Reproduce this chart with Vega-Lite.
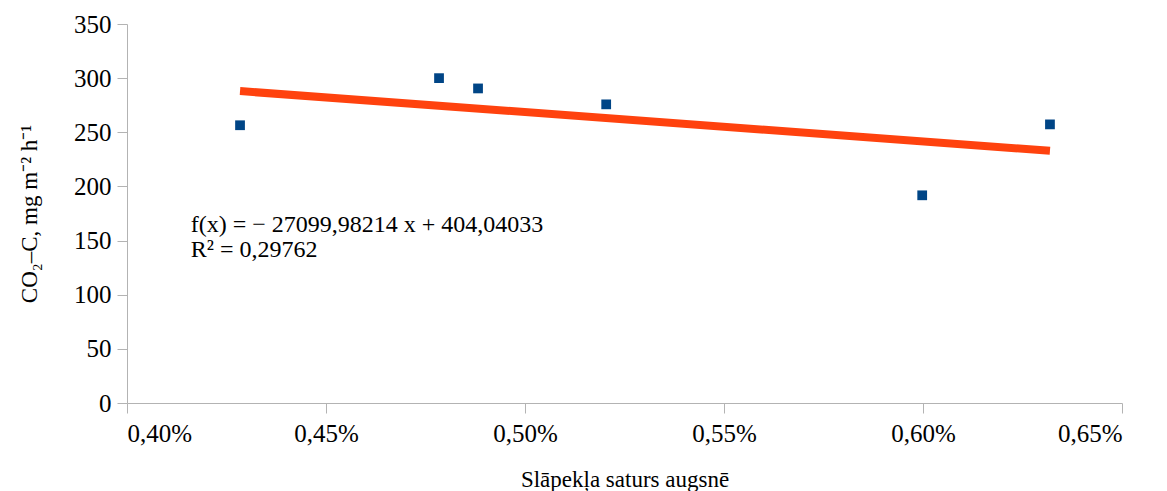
{
  "$schema": "https://vega.github.io/schema/vega-lite/v6.json",
  "width": 995,
  "height": 379,
  "autosize": {"type": "none"},
  "padding": {"left": 127, "top": 24, "right": 45, "bottom": 88},
  "background": "white",
  "config": {
    "view": {"stroke": null},
    "font": "Liberation Serif",
    "axis": {
      "grid": false,
      "domainColor": "#b3b3b3",
      "tickColor": "#b3b3b3",
      "tickSize": 10,
      "labelFont": "Liberation Serif",
      "labelFontSize": 25,
      "labelColor": "#000000",
      "titleFont": "Liberation Serif",
      "titleFontSize": 23,
      "titleFontWeight": "normal",
      "titleColor": "#000000"
    }
  },
  "data": {
    "values": [
      {"n": 0.004284, "co2": 256.5},
      {"n": 0.004784, "co2": 300.0},
      {"n": 0.004882, "co2": 290.5},
      {"n": 0.005204, "co2": 275.8},
      {"n": 0.005998, "co2": 191.8},
      {"n": 0.006319, "co2": 257.3}
    ]
  },
  "layer": [
    {
      "transform": [{"regression": "co2", "on": "n"}],
      "mark": {"type": "line", "color": "#ff420e", "strokeWidth": 8, "strokeCap": "butt"},
      "encoding": {
        "x": {"field": "n", "type": "quantitative"},
        "y": {"field": "co2", "type": "quantitative"}
      }
    },
    {
      "mark": {"type": "square", "color": "#004586", "opacity": 1, "size": 95, "filled": true},
      "encoding": {
        "x": {
          "field": "n",
          "type": "quantitative",
          "scale": {"domain": [0.004, 0.0065], "nice": false, "zero": false},
          "axis": {
            "values": [0.004, 0.0045, 0.005, 0.0055, 0.006, 0.0065],
            "labelExpr": "replace(format(datum.value, '.2%'), '.', ',')",
            "labelPadding": 8,
            "title": "Slāpekļa saturs augsnē",
            "titlePadding": 22
          }
        },
        "y": {
          "field": "co2",
          "type": "quantitative",
          "scale": {"domain": [0, 350], "nice": false},
          "axis": {
            "values": [0, 50, 100, 150, 200, 250, 300, 350],
            "labelPadding": 6,
            "title": "CO₂–C, mg m⁻² h⁻¹",
            "titlePadding": 32
          }
        }
      }
    },
    {
      "data": {"values": [{"label": "equation"}]},
      "mark": {
        "type": "text",
        "text": ["f(x) = − 27099,98214 x + 404,04033", "R² = 0,29762"],
        "font": "Liberation Serif",
        "fontSize": 24,
        "align": "left",
        "baseline": "middle",
        "lineHeight": 25,
        "color": "#000000"
      },
      "encoding": {
        "x": {"datum": 0.00416, "type": "quantitative"},
        "y": {"datum": 164, "type": "quantitative"}
      }
    }
  ]
}
